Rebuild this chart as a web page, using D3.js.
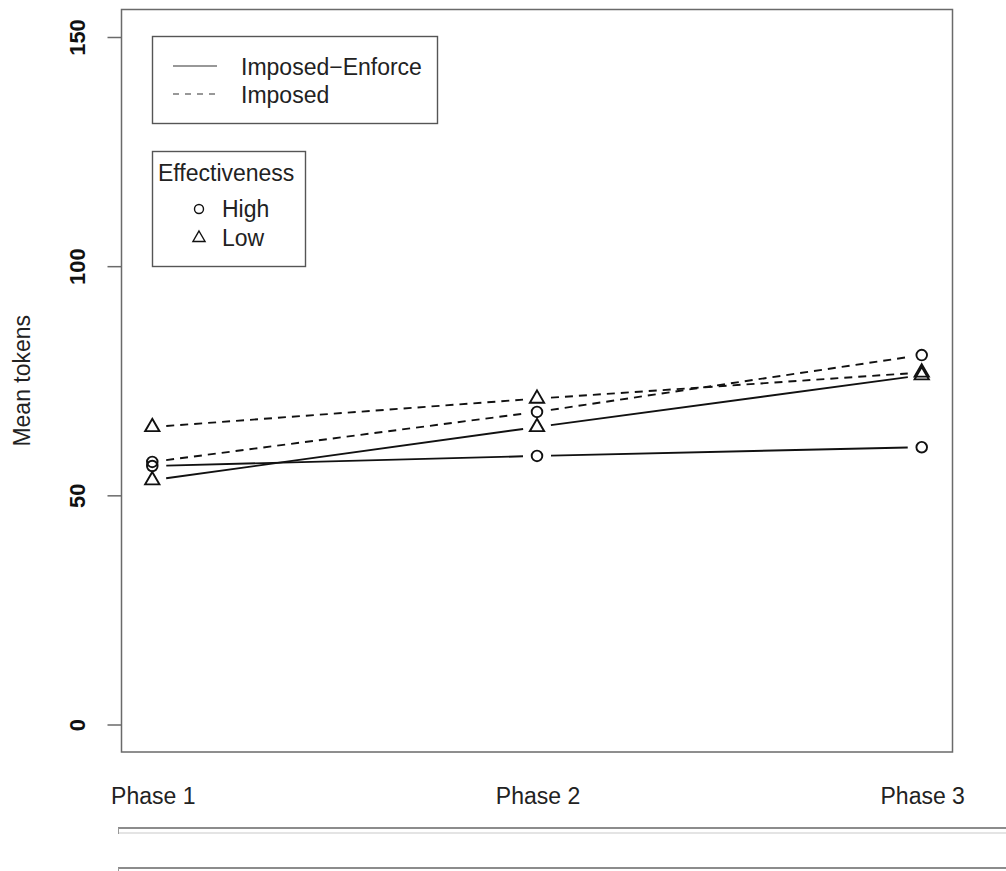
<!DOCTYPE html>
<html>
<head>
<meta charset="utf-8">
<script src="https://cdn.jsdelivr.net/npm/d3@7"></script>
<style>
  body { margin: 0; background: #fff; }
  svg { display: block; font-family: 'Liberation Sans', Arial, sans-serif; }
</style>
</head>
<body>
<svg id="chart" width="1006" height="871"></svg>
<script>
// values
var phases = ['Phase 1', 'Phase 2', 'Phase 3']
var yTicks = [0, 50, 100, 150]
var enforceHigh = [56.4, 58.6, 60.5]
var enforceLow = [53.3, 64.9, 76.2]
var imposedHigh = [57.3, 68.2, 80.6]
var imposedLow = [64.9, 71.1, 76.8]
var typeLabels = ['Imposed\u2212Enforce', 'Imposed']
var effLabels = ['High', 'Low']

var series = [
  {values: enforceHigh, dashed: false, shape: 'circle'},
  {values: enforceLow, dashed: false, shape: 'triangle'},
  {values: imposedHigh, dashed: true, shape: 'circle'},
  {values: imposedLow, dashed: true, shape: 'triangle'}
]

;(function () {
  var svg = d3.select('#chart')
  var box = {left: 121.5, right: 952.5, top: 9.5, bottom: 752}
  var dash = '8,6'
  var ptR = 5.3
  var gap = 14
  var lw = 1.9
  var fs = 23

  var mapx = d3.scaleLinear()
      .domain([0.92, 3.08])
      .range([box.left, box.right])

  var mapy = d3.scaleLinear()
      .domain([-6, 156])
      .range([box.bottom, box.top])

  // R style pch symbols
  function symbol (g, shape, cx, cy, r, w) {
    if (shape === 'circle') {
      g.append('circle')
          .attr('cx', cx).attr('cy', cy).attr('r', r)
          .attr('fill', 'none').attr('stroke', '#111').attr('stroke-width', w)
    } else {
      var top = 1.555 * r
      var half = 1.347 * r
      var low = 0.778 * r
      g.append('path')
          .attr('d', `M${cx},${cy - top}L${cx + half},${cy + low}L${cx - half},${cy + low}Z`)
          .attr('fill', 'none').attr('stroke', '#111').attr('stroke-width', w)
    }
  }

  /*
      --------------------------------------
      Plot frame and y axis
  */
  svg.append('rect')
      .attr('x', box.left).attr('y', box.top)
      .attr('width', box.right - box.left)
      .attr('height', box.bottom - box.top)
      .attr('fill', 'none')
      .attr('stroke', '#6a6a6a')
      .attr('stroke-width', 1.5)

  var yAxis = d3.axisLeft(mapy)
      .tickValues(yTicks)
      .tickSize(14)
      .tickFormat(d3.format('d'))

  var ax = svg.append('g')
      .attr('transform', `translate(${box.left},0)`)
      .call(yAxis)
  ax.select('.domain').remove()
  ax.selectAll('.tick line').attr('stroke', '#6a6a6a').attr('stroke-width', 1.5)
  ax.selectAll('.tick text')
      .attr('x', null)
      .attr('transform', 'translate(-44,0) rotate(-90)')
      .attr('dy', '0.36em')
      .attr('text-anchor', 'middle')
      .attr('font-size', 22)
      .attr('font-weight', 'bold')
      .attr('fill', '#111')
      .attr('font-family', "'Liberation Sans', Arial, sans-serif")

  svg.append('text')
      .attr('transform', `translate(22,${(mapy(0) + mapy(150)) / 2}) rotate(-90)`)
      .attr('dy', '0.36em')
      .attr('text-anchor', 'middle')
      .attr('font-size', fs)
      .attr('fill', '#222')
      .text('Mean tokens')

  // x labels (no axis line in the original)
  svg.append('g').selectAll('text')
      .data(phases)
      .join('text')
      .attr('x', (d, i) => mapx(i + 1) + 1)
      .attr('y', 804)
      .attr('text-anchor', 'middle')
      .attr('font-size', fs)
      .attr('fill', '#222')
      .text(d => d)

  /*
      --------------------------------------
      Lines with gaps round the points (type = "b")
  */
  var lines = svg.append('g')
  series.forEach(function (s) {
    var pts = s.values.map((v, i) => [mapx(i + 1), mapy(v)])
    for (var i = 0; i < pts.length - 1; i++) {
      var a = pts[i]
      var b = pts[i + 1]
      var dx = b[0] - a[0]
      var dy = b[1] - a[1]
      var len = Math.sqrt(dx * dx + dy * dy)
      var ux = dx / len
      var uy = dy / len
      lines.append('line')
          .attr('x1', a[0] + ux * gap).attr('y1', a[1] + uy * gap)
          .attr('x2', b[0] - ux * gap).attr('y2', b[1] - uy * gap)
          .attr('stroke', '#111')
          .attr('stroke-width', lw)
          .attr('stroke-dasharray', s.dashed ? dash : null)
    }
    pts.forEach(p => symbol(lines, s.shape, p[0], p[1], ptR, lw))
  })

  /*
      --------------------------------------
      Legends
  */
  var leg1 = svg.append('g')
  leg1.append('rect')
      .attr('x', 152.5).attr('y', 36.5).attr('width', 285).attr('height', 87)
      .attr('fill', '#fff').attr('stroke', '#555').attr('stroke-width', 1.4)
  typeLabels.forEach(function (t, i) {
    var cy = 66 + i * 28
    leg1.append('line')
        .attr('x1', 173).attr('x2', 217).attr('y1', cy).attr('y2', cy)
        .attr('stroke', '#333').attr('stroke-width', 1.2)
        .attr('stroke-dasharray', i === 1 ? '6,6' : null)
    leg1.append('text')
        .attr('x', 241).attr('y', cy + 9)
        .attr('font-size', fs).attr('fill', '#222')
        .text(t)
  })

  var leg2 = svg.append('g')
  leg2.append('rect')
      .attr('x', 152.5).attr('y', 151.5).attr('width', 153).attr('height', 115)
      .attr('fill', '#fff').attr('stroke', '#555').attr('stroke-width', 1.4)
  leg2.append('text')
      .attr('x', 158).attr('y', 181)
      .attr('font-size', fs).attr('fill', '#222')
      .text('Effectiveness')
  effLabels.forEach(function (t, i) {
    var cy = 209 + i * 29
    symbol(leg2, i === 0 ? 'circle' : 'triangle', 199, cy, 4.5, 1.4)
    leg2.append('text')
        .attr('x', 222).attr('y', cy + 8)
        .attr('font-size', fs).attr('fill', '#222')
        .text(t)
  })

  // clipped box edges under the plot
  var edges = svg.append('g')
  ;[828, 868].forEach(function (y) {
    edges.append('line')
        .attr('x1', 118).attr('x2', 1006).attr('y1', y).attr('y2', y)
        .attr('stroke', '#8c8c8c').attr('stroke-width', 2)
    edges.append('line')
        .attr('x1', 118.5).attr('x2', 118.5).attr('y1', y).attr('y2', y + 6)
        .attr('stroke', '#999').attr('stroke-width', 1)
  })
  edges.append('line')
      .attr('x1', 119).attr('x2', 1006).attr('y1', 833).attr('y2', 833)
      .attr('stroke', '#e4e4e4').attr('stroke-width', 2)
})()
</script>
</body>
</html>
